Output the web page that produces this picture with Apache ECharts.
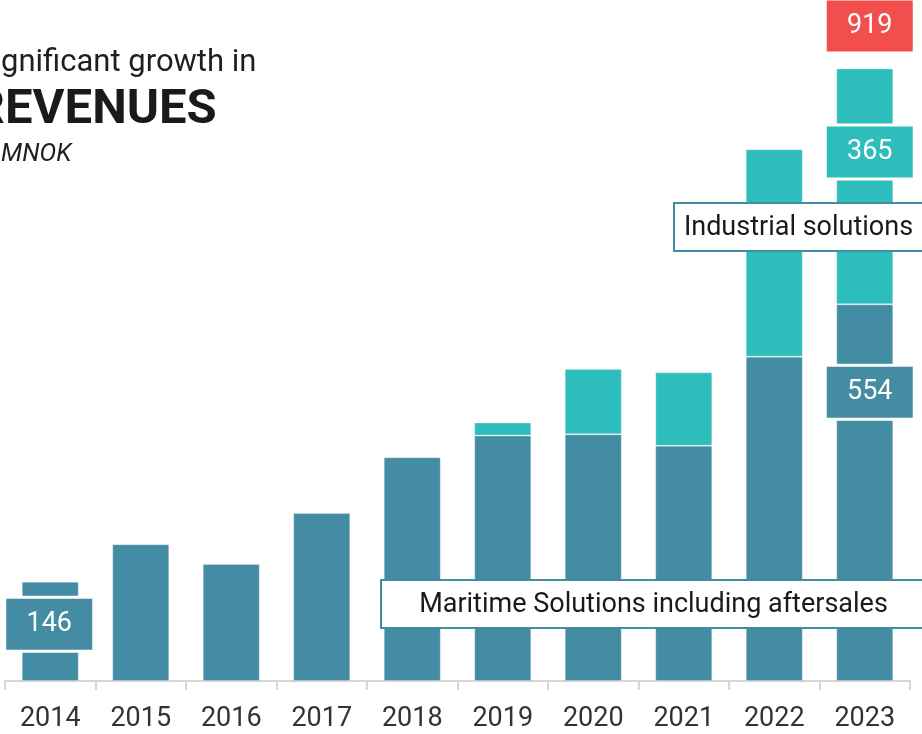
<!DOCTYPE html>
<html><head><meta charset="utf-8">
<script src="https://cdn.jsdelivr.net/npm/echarts@6/dist/echarts.min.js"></script>
<style>html,body{margin:0;padding:0;background:#fff}#c{width:922px;height:734px}</style>
</head><body><div id="c"></div>
<script>
// ---- data ----
const years = ['2014','2015','2016','2017','2018','2019','2020','2021','2022','2023'];
const maritime = [146, 201, 172, 247, 329, 361, 363, 346, 477, 554];
const industrial = [null, null, null, null, null, 19, 96, 108, 305, 365];
const seriesNames = ['Maritime Solutions including aftersales', 'Industrial solutions'];
const titleLines = ['Significant growth in', 'REVENUES', 'In MNOK'];
const yMax = 900;

// ---- styles ----
const FONT = 'Roboto';
const C_MAR = '#438CA3', C_IND = '#2DBDBD', C_TOT = '#F24E4E';
const last = years.length - 1;
const total = maritime.map((v, i) => (v || 0) + (industrial[i] || 0));

function boxLabel(color, offset, position) {
  return {
    show: true, position: position || 'inside', offset: offset,
    backgroundColor: color, borderColor: '#fff', borderWidth: 3,
    width: 86, height: 51, lineHeight: 51, align: 'center', verticalAlign: 'middle',
    color: '#fff', fontSize: 27, fontFamily: FONT,
    formatter: p => String(p.value)
  };
}
const marLabels = {0: [-1, -7], [last]: [5, -100.5]};
const marData = maritime.map((v, i) => marLabels[i] ? {value: v, label: boxLabel(C_MAR, marLabels[i])} : v);
const indData = industrial.map((v, i) => i === last ? {value: v, label: boxLabel(C_IND, [5, -34.5])} : v);
const totData = total.map((v, i) => i === last ? {value: v, label: boxLabel(C_TOT, [5, -38], 'top')} : null);

const chart = echarts.init(document.getElementById('c'), null, {renderer: 'canvas'});

// measure hidden prefix widths so visible text lines up with the crop
const cv = document.createElement('canvas').getContext('2d');
function w(txt, font) { cv.font = font; return cv.measureText(txt).width; }
const f1 = '31px ' + FONT, f2 = 'bold 49px ' + FONT, f3 = 'italic 25px ' + FONT;
const x1 = -w('Si', f1) + 1;
const x2 = -w('R', f2) + 5;
const x3 = -w('In ', f3) + 1;

const bw = 57;
chart.setOption({
  animation: false,
  grid: {left: 5, right: 12, top: 69, bottom: 53, containLabel: false},
  xAxis: {
    type: 'category', data: years,
    axisLine: {lineStyle: {color: '#d6d6d6', width: 2}},
    axisTick: {show: true, length: 9, lineStyle: {color: '#d6d6d6', width: 2}},
    axisLabel: {fontSize: 27, color: '#333', fontFamily: FONT, margin: 25}
  },
  yAxis: {type: 'value', min: 0, max: yMax, show: false, splitLine: {show: false}},
  series: [
    {name: seriesNames[0], type: 'bar', stack: 'rev', barWidth: bw, data: marData,
     itemStyle: {color: C_MAR, borderColor: 'rgba(255,255,255,0.25)', borderWidth: 1}},
    {name: seriesNames[1], type: 'bar', stack: 'rev', barWidth: bw, data: indData,
     itemStyle: {color: C_IND, borderColor: 'rgba(255,255,255,0.25)', borderWidth: 1}},
    {name: 'Total', type: 'bar', barWidth: bw, barGap: '-100%', data: totData,
     itemStyle: {color: 'rgba(0,0,0,0)'}, z: 5}
  ],
  graphic: [
    {type: 'text', x: x1, y: 63, z: 10, style: {text: titleLines[0], font: f1, fill: '#1f1f1f', verticalAlign: 'middle'}},
    {type: 'text', x: x2, y: 111, z: 10, style: {text: titleLines[1], font: f2, fill: '#1a1a1a', verticalAlign: 'middle'}},
    {type: 'text', x: x3, y: 155, z: 10, style: {text: titleLines[2], font: f3, fill: '#1f1f1f', verticalAlign: 'middle'}},
    {type: 'rect', z: 20, shape: {x: 674, y: 203, width: 260, height: 48},
     style: {fill: '#fff', stroke: C_MAR, lineWidth: 2}},
    {type: 'text', z: 21, x: 798.5, y: 228, style: {text: seriesNames[1], font: '27px ' + FONT, fill: '#1a1a1a', align: 'center', verticalAlign: 'middle'}},
    {type: 'rect', z: 20, shape: {x: 381, y: 580, width: 560, height: 48},
     style: {fill: '#fff', stroke: C_MAR, lineWidth: 2}},
    {type: 'text', z: 21, x: 653.5, y: 605, style: {text: seriesNames[0], font: '27px ' + FONT, fill: '#1a1a1a', align: 'center', verticalAlign: 'middle'}}
  ]
});
</script></body></html>
